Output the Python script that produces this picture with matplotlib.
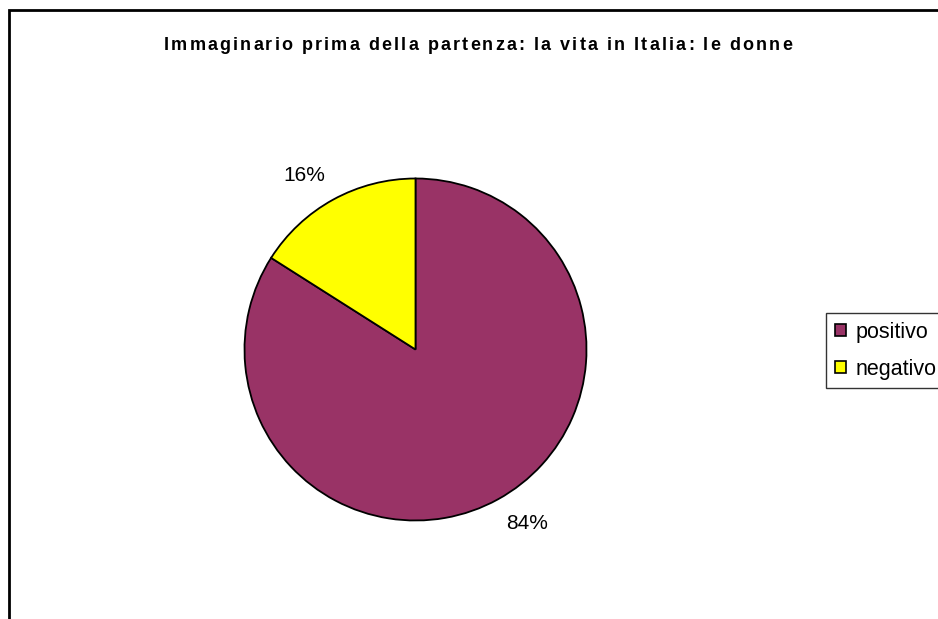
import matplotlib
matplotlib.use("Agg")
import matplotlib.pyplot as plt
from matplotlib.patches import Rectangle
from matplotlib.font_manager import FontProperties
import numpy as np

categories = ["positivo", "negativo"]
values = [84, 16]
colors = ["#993366", "#FFFF00"]
title = "Immaginario prima della partenza: la vita in Italia: le donne"

W, H = 938, 619
plt.rcParams["font.family"] = ["Liberation Sans", "DejaVu Sans"]
fig = plt.figure(figsize=(W / 100, H / 100), dpi=100)
fig.patch.set_facecolor("white")

# chart-area frame, running off the right and bottom edges
fig.add_artist(Rectangle((8.5 / W, -0.1), 1.2, (H - 10.5) / H + 0.1,
                         transform=fig.transFigure, fill=False,
                         edgecolor="black", linewidth=2))

# pie axes: centre (415.5, 349.5), radius ~171 px
r = 171
cx, cy = 415.5, 349.5
ax = fig.add_axes([(cx - r) / W, (H - cy - r) / H, 2 * r / W, 2 * r / H])
wedges, _ = ax.pie(values, colors=colors, startangle=90, counterclock=False,
                   wedgeprops=dict(edgecolor="black", linewidth=1.3))
ax.set_xlim(-1, 1)
ax.set_ylim(-1, 1)
ax.set_aspect("equal")

# percentage labels: text box corner sits just outside the slice midpoint
for w, v in zip(wedges, values):
    ang = np.deg2rad((w.theta1 + w.theta2) / 2)
    c, s = np.cos(ang), np.sin(ang)
    d = 1.10
    ax.text(d * c, d * s, f"{v}%", ha="left" if c > 0 else "right",
            va="top" if s < 0 else "bottom", fontsize=15, clip_on=False)

# letter-spaced bold title
renderer = fig.canvas.get_renderer()
tprop = FontProperties(family=["Liberation Sans", "DejaVu Sans"], weight="bold", size=13)

def text_width(s):
    w, _, _ = renderer.get_text_width_height_descent(s + "|", tprop, ismath=False)
    w0, _, _ = renderer.get_text_width_height_descent("|", tprop, ismath=False)
    return w - w0

target_width = 628
plain = text_width(title)
tracking = (target_width - plain) / (len(title) - 1)
offsets = [text_width(title[:i]) + tracking * i for i in range(len(title))]
x0 = 478 - target_width / 2
for ch, off in zip(title, offsets):
    if ch != " ":
        fig.text((x0 + off) / W, 1 - 50 / H, ch, ha="left", va="baseline",
                 fontproperties=tprop)

leg = fig.legend(wedges, categories, loc="upper left",
                 bbox_to_anchor=(826 / W, 1 - 313 / H), fontsize=15.5,
                 frameon=True, fancybox=False, edgecolor="black",
                 handlelength=0.51, handleheight=0.51, handletextpad=0.47,
                 borderpad=0.4, labelspacing=0.75, borderaxespad=0)
leg.get_frame().set_linewidth(1)
for h in leg.legend_handles:
    h.set_edgecolor("black")
    h.set_linewidth(1.2)

fig.savefig("out.png", dpi=100)
